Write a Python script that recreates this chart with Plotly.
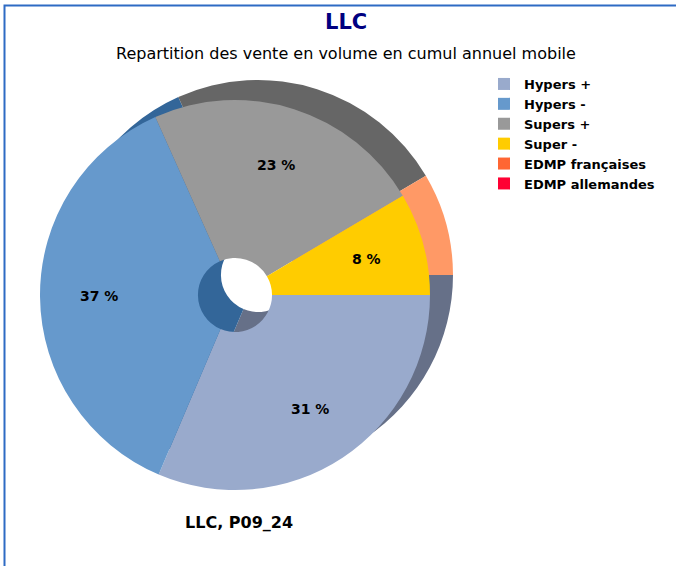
import math
import plotly.graph_objects as go

# Data
labels = ['Hypers +', 'Hypers -', 'Supers +', 'Super -', 'EDMP françaises', 'EDMP allemandes']
values = [31.4, 36.9, 23.2, 8.5, 0.0, 0.0]
front_colors = ['#99AACC', '#6699CC', '#999999', '#FFCC00', '#FF6633', '#FF0033']
back_colors = ['#667088', '#336699', '#666666', '#FF9966', '#FF9966', '#CC0033']

W, H = 676, 566
CX, CY, R = 235, 295, 195   # front pie centre / radius (px)
DX, DY = 23, -20            # shadow offset


def dom(cx, cy, r):
    return dict(x=[(cx - r) / W, (cx + r) / W], y=[(H - cy - r) / H, (H - cy + r) / H])


fig = go.Figure()

# shadow pie (offset up-right)
fig.add_trace(go.Pie(labels=labels, values=values, sort=False, direction='clockwise', rotation=90,
                     hole=0.19, marker=dict(colors=back_colors, line=dict(width=0)),
                     textinfo='none', hoverinfo='skip', showlegend=False,
                     domain=dom(CX + DX, CY + DY, R)))

# front pie
fig.add_trace(go.Pie(labels=labels, values=values, sort=False, direction='clockwise', rotation=90,
                     hole=0.19, marker=dict(colors=front_colors, line=dict(width=0)),
                     textinfo='none', domain=dom(CX, CY, R)))

# percentage labels at 70% of radius, mid-angle of each slice
total = sum(values)
annotations = []
cum = 0
for v in values:
    share = v / total
    ang = -2 * math.pi * (cum + share / 2)
    cum += share
    if share * 100 < 2:
        continue
    x = CX + 0.7 * R * math.cos(ang)
    y = CY - 0.7 * R * math.sin(ang)
    annotations.append(dict(text=f"<b>{round(share * 100)} %</b>", x=x / W, y=(H - y) / H,
                            xref='paper', yref='paper', xanchor='center', yanchor='middle',
                            showarrow=False, font=dict(size=14, color='black')))

annotations += [
    dict(text='<b>LLC</b>', x=346 / W, y=(H - 22) / H, xref='paper', yref='paper', showarrow=False,
         xanchor='center', yanchor='middle', font=dict(size=21, color='#000080')),
    dict(text='Repartition des vente en volume en cumul annuel mobile', x=346 / W, y=(H - 53) / H,
         xref='paper', yref='paper', showarrow=False, xanchor='center', yanchor='middle',
         font=dict(size=16)),
    dict(text='<b>LLC, P09_24</b>', x=239 / W, y=(H - 522) / H, xref='paper', yref='paper',
         showarrow=False, xanchor='center', yanchor='middle', font=dict(size=16)),
]

fig.update_layout(
    width=W, height=H,
    margin=dict(l=0, r=0, t=0, b=0),
    paper_bgcolor='white',
    font=dict(family='DejaVu Sans', color='black'),
    legend=dict(x=484 / W, y=(H - 69) / H, xanchor='left', yanchor='top',
                font=dict(size=13, weight='bold'), tracegroupgap=0,
                itemwidth=30, bgcolor='rgba(0,0,0,0)'),
    shapes=[dict(type='rect', xref='paper', yref='paper', x0=4.5 / W, x1=1.1, y0=-0.1, y1=(H - 5.5) / H,
                 line=dict(color='#2E6BC4', width=2), fillcolor='rgba(0,0,0,0)', layer='below')],
    annotations=annotations,
)

fig.write_html("out.html", config={'displayModeBar': False},
               post_script="document.body.style.margin='0';document.body.style.overflow='hidden';")
